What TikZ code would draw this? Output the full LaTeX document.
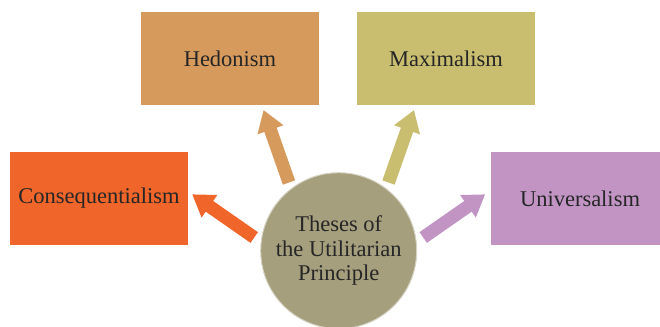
\documentclass[tikz,border=0pt]{standalone}
\usepackage{fontspec}
\setmainfont{Liberation Serif}
\usetikzlibrary{arrows.meta}
\definecolor{hedc}{HTML}{D69A5C}
\definecolor{maxc}{HTML}{C9BE70}
\definecolor{conc}{HTML}{F06529}
\definecolor{unic}{HTML}{C194C4}
\definecolor{circc}{HTML}{A59F7E}
\definecolor{txtc}{HTML}{262626}
\tikzset{
  box/.style={rectangle, minimum width=178pt, minimum height=93pt, inner sep=0pt,
    text=txtc, font=\fontsize{22.5}{26}\selectfont},
  hub/.style={circle, minimum size=156pt, inner sep=0pt, fill=circc, draw=circc!45!white,
    line width=1pt, text=txtc, align=center, font=\fontsize{22.5}{24.5}\selectfont},
  blockarrow/.style={line width=13pt, -{Triangle[width=26pt,length=21pt]}}
}
\begin{document}
\begin{tikzpicture}[x=1pt,y=-1pt]
\useasboundingbox (0,0) rectangle (660,326);
\node[box, fill=hedc] (hed) at (230,58.5) {Hedonism};
\node[box, fill=maxc] (max) at (446,58.5) {Maximalism};
\node[box, fill=conc] (con) at (99,198.5) {Consequentialism};
\node[box, fill=unic] (uni) at (580,198.5) {Universalism};
\node[hub] (hub) at (338.7,250.7) {Theses of\\the Utilitarian\\Principle};
\coordinate (hs) at (289,182.5);
\coordinate (ht) at (263.5,110);
\coordinate (ms) at (388.5,182.5);
\coordinate (mt) at (414,110);
\coordinate (cs) at (254.2,237.5);
\coordinate (ct) at (192.2,194.3);
\coordinate (us) at (423.2,237.5);
\coordinate (ut) at (485.2,194.3);
\draw[blockarrow, draw=hedc, fill=hedc] (hs) -- (ht);
\draw[blockarrow, draw=maxc, fill=maxc] (ms) -- (mt);
\draw[blockarrow, draw=conc, fill=conc] (cs) -- (ct);
\draw[blockarrow, draw=unic, fill=unic] (us) -- (ut);
\end{tikzpicture}
\end{document}
